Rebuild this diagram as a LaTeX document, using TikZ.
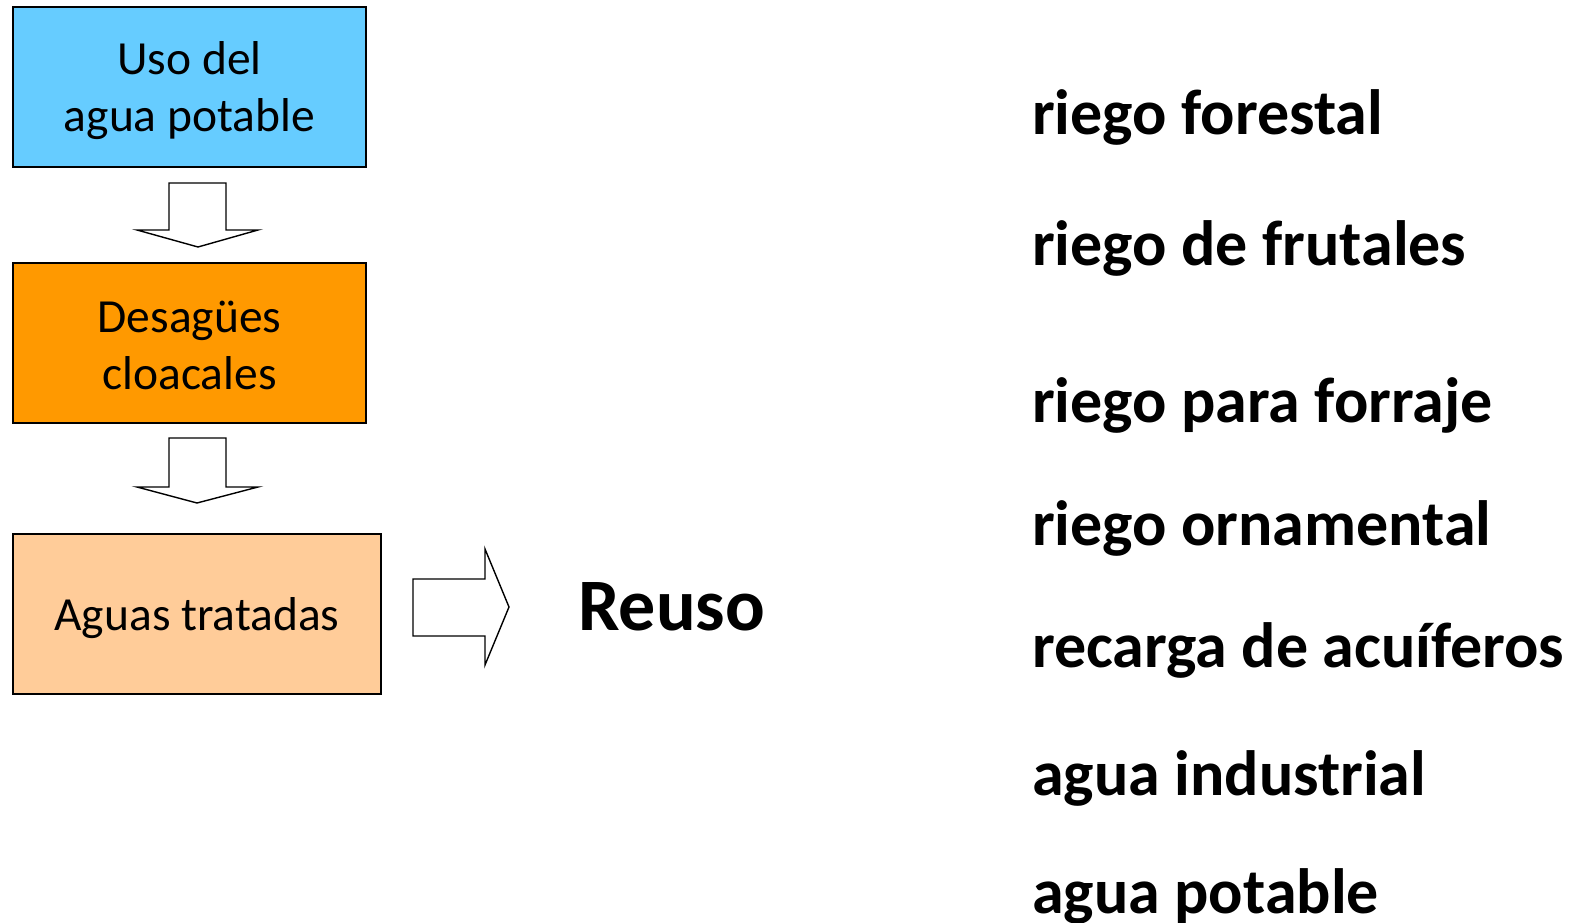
\documentclass[tikz,border=0pt]{standalone}
\usepackage{fontspec}
\setmainfont{Carlito}
\definecolor{boxblue}{HTML}{66CCFF}
\definecolor{boxorange}{HTML}{FF9900}
\definecolor{boxpeach}{HTML}{FFCC99}
\begin{document}
\begin{tikzpicture}[x=1pt,y=-1pt,
  stagebox/.style={draw=black,line width=2pt,minimum height=160pt,inner sep=0pt},
  stagetext/.style={align=center,inner sep=0pt,font=\fontsize{47.5}{57}\selectfont},
  blockarrow/.style={draw=black,fill=white,line width=1.4pt,line join=miter},
  uselabel/.style={anchor=base west,inner sep=0pt,font=\bfseries\fontsize{64}{76}\selectfont}]
\useasboundingbox (0,0) rectangle (1571,923);

% process stages
\node[stagebox,fill=boxblue,minimum width=353pt] (uso) at (189.5,87) {};
\node[stagetext] (usotext) at ([yshift=-4pt]uso.center) {Uso del\\agua potable};
\node[stagebox,fill=boxorange,minimum width=353pt] (desague) at (189.5,343) {};
\node[stagetext] (desaguetext) at ([yshift=-2pt]desague.center) {Desagües\\cloacales};
\node[stagebox,fill=boxpeach,minimum width=368pt] (tratadas) at (197,614) {};
\node[stagetext] (tratadastext) at ([yshift=-4pt]tratadas.center) {Aguas tratadas};

% block arrows between stages
\draw[blockarrow] (169,183) -- (226,183) -- (226,230) -- (258,230) -- (198,247)
  -- (137,230) -- (169,230) -- cycle;
\draw[blockarrow] (169,438) -- (226,438) -- (226,487) -- (258,487) -- (197,503)
  -- (137,487) -- (169,487) -- cycle;
\draw[blockarrow] (413,579) -- (485,579) -- (485,549) -- (509,607) -- (485,665)
  -- (485,636) -- (413,636) -- cycle;

\node[anchor=base west,inner sep=0pt,font=\bfseries\fontsize{74}{88}\selectfont]
  (reuso) at (578,630) {Reuso};

% uses of reclaimed water
\node[uselabel] (u1) at (1032,135) {riego forestal};
\node[uselabel] (u2) at (1032,265) {riego de frutales};
\node[uselabel] (u3) at (1032,422) {riego para forraje};
\node[uselabel] (u4) at (1032,545) {riego ornamental};
\node[uselabel] (u5) at (1032,667) {recarga de acuíferos};
\node[uselabel] (u6) at (1032,795) {agua industrial};
\node[uselabel] (u7) at (1032,913) {agua potable};
\end{tikzpicture}
\end{document}
